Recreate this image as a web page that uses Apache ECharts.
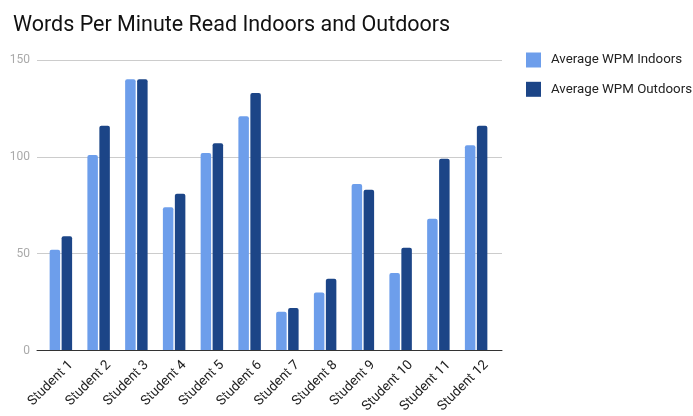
<!DOCTYPE html>
<html>
<head>
<meta charset="utf-8">
<script src="https://cdn.jsdelivr.net/npm/echarts@6/dist/echarts.min.js"></script>
<style>
  html, body { margin: 0; padding: 0; background: #fff; }
  #chart { width: 693px; height: 416px; }
</style>
</head>
<body>
<div id="chart"></div>
<script>
// Reading speed per student, in words per minute
const students = ['Student 1', 'Student 2', 'Student 3', 'Student 4', 'Student 5', 'Student 6',
                  'Student 7', 'Student 8', 'Student 9', 'Student 10', 'Student 11', 'Student 12'];
const wpmIndoors = [52, 101, 140, 74, 102, 121, 20, 30, 86, 40, 68, 106];
const wpmOutdoors = [59, 116, 140, 81, 107, 133, 22, 37, 83, 53, 99, 116];
const yTicks = [0, 50, 100, 150];

const chart = echarts.init(document.getElementById('chart'));
const font = 'Roboto, "Noto Sans", sans-serif';
const yMin = yTicks[0];
const yMax = yTicks[yTicks.length - 1];
const yStep = yTicks[1] - yTicks[0];

// Three stacked grids share the same vertical extent:
// 0 = gridlines, y labels and baseline (full width)
// 1 = the bars (inset a little from the gridlines)
// 2 = the rotated category labels (nudged right so the text ends beside each group)
const plotTop = 60, plotBottom = 65.5;

chart.setOption({
  animation: false,
  textStyle: { fontFamily: font },
  title: {
    text: 'Words Per Minute Read Indoors and Outdoors',
    left: 8,
    top: 10,
    textStyle: { fontFamily: font, fontSize: 21.5, fontWeight: 'normal', color: '#111' }
  },
  legend: {
    orient: 'vertical',
    left: 521,
    top: 47.5,
    itemWidth: 15,
    itemHeight: 15,
    itemGap: 14.3,
    icon: 'rect',
    textStyle: { fontFamily: font, fontSize: 13.3, color: '#222', padding: [0, 0, 0, 5] },
    data: ['Average WPM Indoors', 'Average WPM Outdoors']
  },
  grid: [
    { left: 37, right: 191, top: plotTop, bottom: plotBottom },
    { left: 42, right: 198, top: plotTop, bottom: plotBottom },
    { left: 52, right: 188, top: plotTop, bottom: plotBottom }
  ],
  xAxis: [
    {
      gridIndex: 0,
      type: 'category',
      data: students,
      axisTick: { show: false },
      axisLabel: { show: false },
      axisLine: { lineStyle: { color: '#333', width: 1 } },
      z: 5
    },
    {
      gridIndex: 1,
      type: 'category',
      data: students,
      axisTick: { show: false },
      axisLabel: { show: false },
      axisLine: { show: false }
    },
    {
      gridIndex: 2,
      type: 'category',
      data: students,
      axisTick: { show: false },
      axisLine: { show: false },
      axisLabel: {
        rotate: 45,
        interval: 0,
        fontSize: 13.5,
        color: '#222',
        margin: 14,
        fontFamily: font
      }
    }
  ],
  yAxis: [
    {
      gridIndex: 0,
      type: 'value',
      min: yMin,
      max: yMax,
      interval: yStep,
      axisLine: { show: false },
      axisTick: { show: false },
      axisLabel: { color: '#aaa', fontSize: 12, margin: 7, fontFamily: font },
      splitLine: { lineStyle: { color: '#ccc', width: 1 } }
    },
    {
      gridIndex: 1, type: 'value', min: yMin, max: yMax, interval: yStep,
      show: false, splitLine: { show: false }
    },
    {
      gridIndex: 2, type: 'value', min: yMin, max: yMax, interval: yStep,
      show: false, splitLine: { show: false }
    }
  ],
  series: [
    {
      name: 'Average WPM Indoors',
      type: 'bar',
      xAxisIndex: 1,
      yAxisIndex: 1,
      data: wpmIndoors,
      barWidth: 10.5,
      barGap: '14%',
      itemStyle: { color: '#6d9eeb', borderRadius: [2, 2, 0, 0] }
    },
    {
      name: 'Average WPM Outdoors',
      type: 'bar',
      xAxisIndex: 1,
      yAxisIndex: 1,
      data: wpmOutdoors,
      barWidth: 10.5,
      barGap: '14%',
      itemStyle: { color: '#1c4587', borderRadius: [2, 2, 0, 0] }
    }
  ]
});
</script>
</body>
</html>
